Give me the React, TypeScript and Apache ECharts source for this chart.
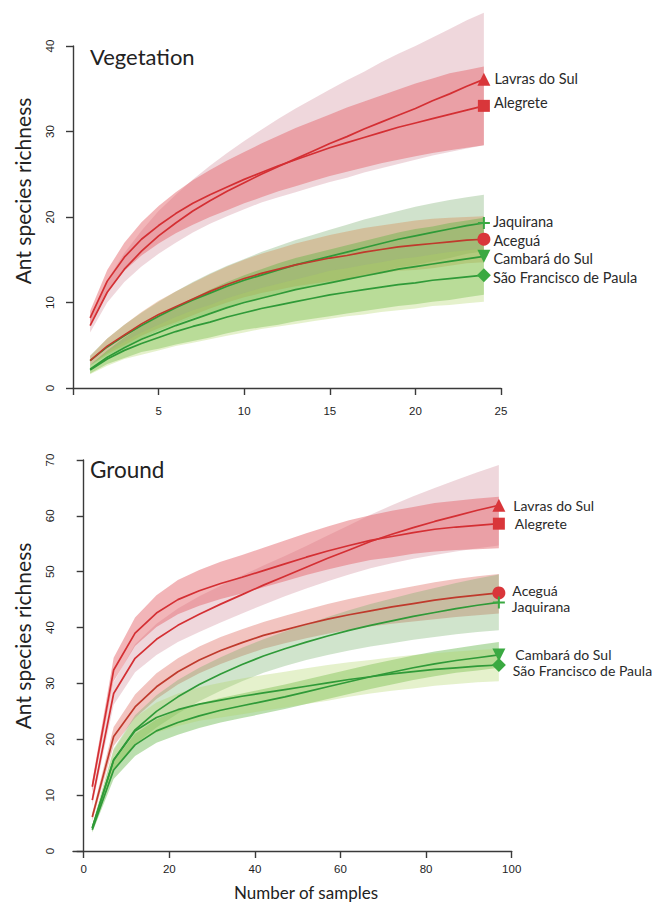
import React, { useEffect, useRef } from "react";
import * as echarts from "echarts";

// ---------- Vegetation panel (samples 1..24) ----------
const vegX = [1, 2, 3, 4, 5, 6, 7, 8, 9, 10, 11, 12, 13, 14, 15, 16, 17, 18, 19, 20, 21, 22, 23, 24];

const vegLavras = [7.3, 11.2, 13.9, 16.0, 17.8, 19.3, 20.7, 21.9, 23.0, 24.0, 25.0, 25.9, 26.8, 27.7, 28.6, 29.4, 30.3, 31.1, 31.9, 32.7, 33.6, 34.4, 35.3, 36.1];
const vegLavrasHi = [8.1, 12.6, 15.8, 18.4, 20.7, 22.6, 24.4, 26.0, 27.5, 28.9, 30.2, 31.5, 32.7, 33.8, 34.9, 36.0, 37.0, 38.1, 39.1, 40.0, 41.0, 42.0, 43.0, 43.9];
const vegLavrasLo = [6.5, 10.0, 12.4, 14.2, 15.7, 17.0, 18.2, 19.2, 20.1, 20.9, 21.7, 22.3, 22.9, 23.5, 24.1, 24.6, 25.2, 25.7, 26.2, 26.7, 27.2, 27.6, 28.0, 28.4];

const vegAlegrete = [8.2, 12.5, 15.3, 17.4, 19.0, 20.4, 21.6, 22.6, 23.5, 24.4, 25.2, 26.0, 26.7, 27.4, 28.1, 28.7, 29.3, 29.9, 30.5, 31.0, 31.5, 32.0, 32.5, 33.0];
const vegAlegreteHi = [9.0, 13.8, 17.0, 19.4, 21.3, 22.9, 24.3, 25.5, 26.6, 27.6, 28.6, 29.5, 30.4, 31.2, 32.0, 32.8, 33.5, 34.2, 34.9, 35.6, 36.2, 36.8, 37.2, 37.6];
const vegAlegreteLo = [7.4, 11.2, 13.7, 15.5, 16.9, 18.1, 19.1, 20.0, 20.8, 21.6, 22.3, 23.0, 23.6, 24.2, 24.8, 25.3, 25.8, 26.3, 26.7, 27.1, 27.5, 27.8, 28.1, 28.4];

const vegAcegua = [3.2, 4.9, 6.2, 7.5, 8.6, 9.5, 10.4, 11.3, 12.1, 12.8, 13.4, 13.9, 14.4, 14.8, 15.2, 15.5, 15.9, 16.2, 16.5, 16.7, 16.9, 17.1, 17.3, 17.4];
const vegAceguaHi = [3.7, 5.8, 7.4, 8.9, 10.2, 11.3, 12.3, 13.3, 14.2, 15.0, 15.7, 16.3, 16.9, 17.4, 17.9, 18.3, 18.7, 19.0, 19.3, 19.6, 19.8, 19.9, 20.0, 20.1];
const vegAceguaLo = [2.7, 4.0, 5.0, 6.1, 7.0, 7.7, 8.5, 9.3, 10.0, 10.6, 11.1, 11.5, 11.9, 12.2, 12.5, 12.7, 13.1, 13.4, 13.7, 13.8, 14.0, 14.3, 14.6, 14.7];

const vegJaquirana = [3.2, 4.8, 6.1, 7.3, 8.4, 9.4, 10.3, 11.1, 11.9, 12.6, 13.2, 13.8, 14.4, 14.9, 15.4, 15.9, 16.4, 16.9, 17.4, 17.8, 18.2, 18.6, 19.0, 19.3];
const vegJaquiranaHi = [3.8, 5.8, 7.4, 8.8, 10.1, 11.3, 12.4, 13.4, 14.3, 15.1, 15.9, 16.6, 17.3, 17.9, 18.5, 19.1, 19.7, 20.2, 20.7, 21.2, 21.6, 22.0, 22.3, 22.6];
const vegJaquiranaLo = [2.6, 3.8, 4.8, 5.8, 6.7, 7.5, 8.2, 8.8, 9.5, 10.1, 10.5, 11.0, 11.5, 11.9, 12.3, 12.7, 13.1, 13.6, 14.1, 14.4, 14.8, 15.2, 15.7, 16.0];

const vegCambara = [2.2, 3.6, 4.7, 5.7, 6.5, 7.3, 8.0, 8.7, 9.4, 10.0, 10.5, 11.0, 11.5, 11.9, 12.3, 12.7, 13.1, 13.5, 13.9, 14.2, 14.5, 14.8, 15.1, 15.4];
const vegCambaraHi = [2.7, 4.4, 5.9, 7.2, 8.4, 9.5, 10.5, 11.5, 12.4, 13.2, 13.9, 14.6, 15.2, 15.7, 16.2, 16.7, 17.2, 17.7, 18.2, 18.6, 18.9, 19.3, 19.6, 19.9];
const vegCambaraLo = [1.7, 2.8, 3.5, 4.2, 4.6, 5.1, 5.5, 5.9, 6.4, 6.8, 7.1, 7.4, 7.8, 8.1, 8.4, 8.7, 9.0, 9.3, 9.6, 9.8, 10.1, 10.3, 10.6, 10.9];

const vegSFP = [2.1, 3.4, 4.4, 5.2, 5.9, 6.6, 7.2, 7.7, 8.3, 8.8, 9.3, 9.7, 10.1, 10.5, 10.9, 11.2, 11.5, 11.8, 12.1, 12.3, 12.6, 12.8, 13.0, 13.2];
const vegSFPHi = [2.6, 4.2, 5.4, 6.5, 7.4, 8.3, 9.1, 9.7, 10.5, 11.1, 11.7, 12.2, 12.7, 13.2, 13.7, 14.0, 14.4, 14.7, 15.1, 15.3, 15.6, 15.9, 16.1, 16.3];
const vegSFPLo = [1.6, 2.6, 3.4, 3.9, 4.4, 4.9, 5.3, 5.7, 6.1, 6.5, 6.9, 7.2, 7.5, 7.8, 8.1, 8.4, 8.6, 8.9, 9.1, 9.3, 9.6, 9.7, 9.9, 10.1];

// ---------- Ground panel ----------
const grdX = [2, 7, 12, 17, 22, 27, 32, 37, 42, 47, 52, 57, 62, 67, 72, 77, 82, 87, 92, 97];

const grdLavras = [9.1, 28.2, 34.5, 37.9, 40.4, 42.4, 44.2, 45.9, 47.6, 49.2, 50.8, 52.4, 53.9, 55.4, 56.7, 57.9, 59.0, 60.0, 61.0, 61.9];
const grdLavrasHi = [10.1, 30.2, 37.0, 40.7, 43.4, 45.6, 47.5, 49.3, 51.1, 52.8, 54.6, 56.5, 58.3, 60.2, 61.9, 63.5, 65.0, 66.4, 67.8, 69.1];
const grdLavrasLo = [8.1, 26.2, 32.0, 35.1, 37.4, 39.2, 40.9, 42.5, 44.1, 45.6, 47.0, 48.3, 49.5, 50.6, 51.5, 52.3, 53.0, 53.6, 54.2, 54.7];

const grdAlegrete = [11.5, 32.4, 39.0, 42.6, 45.0, 46.6, 47.9, 49.0, 50.2, 51.4, 52.6, 53.7, 54.7, 55.6, 56.3, 57.0, 57.6, 58.0, 58.3, 58.6];
const grdAlegreteHi = [12.5, 34.6, 41.8, 45.8, 48.5, 50.3, 51.8, 53.0, 54.3, 55.6, 56.9, 58.1, 59.2, 60.1, 60.9, 61.6, 62.3, 62.7, 63.1, 63.4];
const grdAlegreteLo = [10.5, 30.4, 36.7, 40.1, 42.4, 43.9, 45.1, 46.1, 47.2, 48.3, 49.4, 50.4, 51.3, 52.1, 52.6, 53.2, 53.6, 53.9, 54.0, 54.2];

const grdAcegua = [6.1, 20.5, 25.8, 29.4, 32.1, 34.2, 35.9, 37.3, 38.6, 39.6, 40.6, 41.5, 42.3, 43.0, 43.7, 44.3, 44.9, 45.4, 45.8, 46.2];
const grdAceguaHi = [6.8, 22.2, 28.0, 31.8, 34.5, 36.6, 38.3, 39.7, 41.0, 42.1, 43.2, 44.2, 45.1, 45.9, 46.7, 47.4, 48.1, 48.7, 49.2, 49.6];
const grdAceguaLo = [5.4, 18.8, 23.8, 27.2, 29.8, 31.8, 33.5, 34.9, 36.2, 37.2, 38.1, 38.9, 39.6, 40.2, 40.7, 41.1, 41.5, 41.9, 42.2, 42.5];

const grdJaquirana = [4.1, 16.3, 21.7, 25.0, 27.6, 29.8, 31.7, 33.4, 34.9, 36.2, 37.4, 38.5, 39.5, 40.4, 41.2, 42.0, 42.7, 43.4, 44.0, 44.5];
const grdJaquiranaHi = [4.7, 18.3, 24.3, 27.9, 30.6, 32.8, 34.7, 36.4, 37.9, 39.3, 40.6, 41.9, 43.1, 44.2, 45.2, 46.2, 47.1, 48.0, 48.8, 49.5];
const grdJaquiranaLo = [3.5, 14.3, 19.1, 22.1, 24.6, 26.8, 28.7, 30.4, 31.9, 33.1, 34.2, 35.1, 35.9, 36.6, 37.2, 37.8, 38.3, 38.8, 39.2, 39.5];

const grdCambara = [3.8, 14.5, 19.0, 21.5, 23.0, 24.2, 25.2, 26.0, 26.8, 27.6, 28.5, 29.4, 30.3, 31.2, 32.0, 32.8, 33.5, 34.1, 34.6, 35.1];
const grdCambaraHi = [4.3, 16.1, 21.0, 23.6, 25.2, 26.4, 27.4, 28.2, 29.0, 29.8, 30.7, 31.6, 32.5, 33.4, 34.2, 35.0, 35.7, 36.3, 36.9, 37.4];
const grdCambaraLo = [3.3, 12.9, 17.0, 19.4, 20.8, 22.0, 23.0, 23.8, 24.6, 25.4, 26.3, 27.2, 28.1, 29.0, 29.8, 30.6, 31.3, 31.9, 32.3, 32.8];

const grdSFP = [4.1, 16.3, 21.5, 23.9, 25.3, 26.3, 27.0, 27.7, 28.3, 28.9, 29.5, 30.1, 30.7, 31.2, 31.7, 32.1, 32.5, 32.8, 33.1, 33.3];
const grdSFPHi = [4.6, 18.1, 23.9, 26.6, 28.2, 29.3, 30.1, 30.9, 31.5, 32.1, 32.7, 33.3, 33.8, 34.2, 34.7, 35.1, 35.4, 35.7, 36.0, 36.2];
const grdSFPLo = [3.6, 14.5, 19.1, 21.2, 22.4, 23.3, 23.9, 24.5, 25.1, 25.7, 26.3, 26.9, 27.6, 28.2, 28.7, 29.1, 29.6, 29.9, 30.2, 30.4];

// ---------- tick labels ----------
const vegXTicks = [0, 5, 10, 15, 20, 25];
const vegYTicks = [0, 10, 20, 30, 40];
const grdXTicks = [0, 20, 40, 60, 80, 100];
const grdYTicks = [0, 10, 20, 30, 40, 50, 60, 70];

const RED = "#d42f33";
const ACE_LINE = "#bf3a2c";
const GREEN = "#2f9a38";
const RED_MK = "#d9363a";
const GREEN_MK = "#3aa941";
const FONT = "Lato";

type Site = {
  name: string;
  x: number[];
  mean: number[];
  hi: number[];
  lo: number[];
  line: string;
  band: string;
  marker: string;
  symbol: string;
  rotate?: number;
  size: number;
  dist: number;
  dy: number;
};

const PLUS = "path://M5,0H7V5H12V7H7V12H5V7H0V5H5Z";

const vegSites: Site[] = [
  { name: "Lavras do Sul", x: vegX, mean: vegLavras, hi: vegLavrasHi, lo: vegLavrasLo, line: RED, band: "rgba(212,150,162,0.38)", marker: RED_MK, symbol: "triangle", size: 13, dist: 4, dy: -1 },
  { name: "Alegrete", x: vegX, mean: vegAlegrete, hi: vegAlegreteHi, lo: vegAlegreteLo, line: RED, band: "rgba(228,100,106,0.48)", marker: RED_MK, symbol: "rect", size: 12, dist: 4, dy: -3 },
  { name: "Jaquirana", x: vegX, mean: vegJaquirana, hi: vegJaquiranaHi, lo: vegJaquiranaLo, line: GREEN, band: "rgba(110,165,95,0.32)", marker: GREEN_MK, symbol: PLUS, size: 12, dist: 3, dy: -1 },
  { name: "Aceguá", x: vegX, mean: vegAcegua, hi: vegAceguaHi, lo: vegAceguaLo, line: ACE_LINE, band: "rgba(215,130,70,0.35)", marker: RED_MK, symbol: "circle", size: 13, dist: 3, dy: 1 },
  { name: "Cambará do Sul", x: vegX, mean: vegCambara, hi: vegCambaraHi, lo: vegCambaraLo, line: GREEN, band: "rgba(85,175,55,0.38)", marker: GREEN_MK, symbol: "triangle", rotate: 180, size: 13, dist: 3, dy: 2 },
  { name: "São Francisco de Paula", x: vegX, mean: vegSFP, hi: vegSFPHi, lo: vegSFPLo, line: GREEN, band: "rgba(175,210,95,0.32)", marker: GREEN_MK, symbol: "diamond", size: 14, dist: 2, dy: 2 },
];

const grdSites: Site[] = [
  { name: "Lavras do Sul", x: grdX, mean: grdLavras, hi: grdLavrasHi, lo: grdLavrasLo, line: RED, band: "rgba(212,150,162,0.38)", marker: RED_MK, symbol: "triangle", size: 13, dist: 8, dy: 0 },
  { name: "Alegrete", x: grdX, mean: grdAlegrete, hi: grdAlegreteHi, lo: grdAlegreteLo, line: RED, band: "rgba(228,100,106,0.48)", marker: RED_MK, symbol: "rect", size: 12, dist: 10, dy: 0 },
  { name: "Aceguá", x: grdX, mean: grdAcegua, hi: grdAceguaHi, lo: grdAceguaLo, line: ACE_LINE, band: "rgba(225,115,105,0.42)", marker: RED_MK, symbol: "circle", size: 13, dist: 7, dy: -2 },
  { name: "Jaquirana", x: grdX, mean: grdJaquirana, hi: grdJaquiranaHi, lo: grdJaquiranaLo, line: GREEN, band: "rgba(110,170,95,0.32)", marker: GREEN_MK, symbol: PLUS, size: 12, dist: 7, dy: 4 },
  { name: "Cambará do Sul", x: grdX, mean: grdCambara, hi: grdCambaraHi, lo: grdCambaraLo, line: GREEN, band: "rgba(85,175,55,0.40)", marker: GREEN_MK, symbol: "triangle", rotate: 180, size: 13, dist: 10, dy: 0 },
  { name: "São Francisco de Paula", x: grdX, mean: grdSFP, hi: grdSFPHi, lo: grdSFPLo, line: GREEN, band: "rgba(175,210,95,0.32)", marker: GREEN_MK, symbol: "diamond", size: 14, dist: 7, dy: 6 },
];

function buildSeries(sites: Site[], idx: number, labelSize: number) {
  const out: any[] = [];
  sites.forEach((s) => {
    out.push({
      type: "custom",
      xAxisIndex: idx,
      yAxisIndex: idx,
      silent: true,
      clip: false,
      z: 1,
      data: s.x.map((v, i) => [v, s.lo[i], s.hi[i]]),
      renderItem: (params: any, api: any) => {
        if (params.dataIndex !== 0) return null;
        const pts: number[][] = [];
        for (let i = 0; i < s.x.length; i++) pts.push(api.coord([s.x[i], s.hi[i]]));
        for (let i = s.x.length - 1; i >= 0; i--) pts.push(api.coord([s.x[i], s.lo[i]]));
        return { type: "polygon", shape: { points: pts }, style: { fill: s.band } };
      },
    });
  });
  sites.forEach((s) => {
    out.push({
      type: "line",
      xAxisIndex: idx,
      yAxisIndex: idx,
      silent: true,
      clip: false,
      z: 3,
      symbol: "none",
      lineStyle: { color: s.line, width: 1.7 },
      data: s.x.map((v, i) => [v, s.mean[i]]),
    });
  });
  sites.forEach((s) => {
    const n = s.x.length - 1;
    out.push({
      type: "scatter",
      xAxisIndex: idx,
      yAxisIndex: idx,
      silent: true,
      z: 4,
      symbol: s.symbol,
      symbolSize: s.size,
      symbolRotate: s.rotate || 0,
      itemStyle: { color: s.marker, opacity: 1 },
      label: {
        show: true,
        position: "right",
        distance: s.dist,
        offset: [0, s.dy],
        formatter: s.name,
        color: "#2a2a2a",
        fontFamily: FONT,
        fontSize: labelSize,
        lineHeight: labelSize - 1,
      },
      data: [[s.x[n], s.mean[n]]],
    });
  });
  return out;
}

const axisLineStyle = { color: "#3a3a3a", width: 1.4 };
const tickLabel = { color: "#1e1e1e", fontFamily: "Liberation Sans", fontSize: 11.5 };

export default function App() {
  const ref = useRef<HTMLDivElement>(null);
  useEffect(() => {
    if (!ref.current) return;
    const chart = echarts.init(ref.current, null, { renderer: "svg" });
    chart.setOption({
      animation: false,
      backgroundColor: "#ffffff",
      grid: [
        { left: 73, top: 46, width: 428, height: 342 },
        { left: 73, top: 460, width: 438.7, height: 391 },
      ],
      xAxis: [
        {
          type: "value",
          gridIndex: 0,
          min: vegXTicks[0],
          max: vegXTicks[vegXTicks.length - 1],
          interval: 5,
          splitLine: { show: false },
          axisLine: { show: true, lineStyle: axisLineStyle },
          axisTick: { show: true, length: 7, lineStyle: axisLineStyle },
          axisLabel: { ...tickLabel, margin: 17, formatter: (v: number) => (v === 0 ? "" : String(v)) },
        },
        {
          type: "value",
          gridIndex: 1,
          min: -2.5,
          max: grdXTicks[grdXTicks.length - 1],
          splitLine: { show: false },
          axisLine: { show: true, lineStyle: axisLineStyle },
          axisTick: { show: true, length: 7, lineStyle: axisLineStyle, customValues: grdXTicks },
          axisLabel: { ...tickLabel, margin: 12, customValues: grdXTicks },
        },
      ],
      yAxis: [
        {
          type: "value",
          gridIndex: 0,
          min: vegYTicks[0],
          max: vegYTicks[vegYTicks.length - 1],
          interval: 10,
          splitLine: { show: false },
          axisLine: { show: true, lineStyle: axisLineStyle },
          axisTick: { show: true, length: 7, lineStyle: axisLineStyle },
          axisLabel: { ...tickLabel, rotate: 90, margin: 17 },
        },
        {
          type: "value",
          gridIndex: 1,
          min: grdYTicks[0],
          max: grdYTicks[grdYTicks.length - 1],
          interval: 10,
          splitLine: { show: false },
          axisLine: { show: true, lineStyle: axisLineStyle },
          axisTick: { show: true, length: 7, lineStyle: axisLineStyle },
          axisLabel: { ...tickLabel, rotate: 90, margin: 17 },
        },
      ],
      graphic: [
        { type: "text", left: 90, top: 45, style: { text: "Vegetation", fontFamily: FONT, fontSize: 22, fill: "#222" } },
        { type: "text", left: 90, top: 458, style: { text: "Ground", fontFamily: FONT, fontSize: 22.5, fill: "#222" } },
        {
          type: "text", x: 22, y: 191, rotation: Math.PI / 2,
          style: { text: "Ant species richness", fontFamily: FONT, fontSize: 21, fill: "#222", textAlign: "center", textVerticalAlign: "middle" },
        },
        {
          type: "text", x: 22, y: 636, rotation: Math.PI / 2,
          style: { text: "Ant species richness", fontFamily: FONT, fontSize: 21, fill: "#222", textAlign: "center", textVerticalAlign: "middle" },
        },
        {
          type: "text", x: 306, y: 892,
          style: { text: "Number of samples", fontFamily: FONT, fontSize: 17, fill: "#222", textAlign: "center", textVerticalAlign: "middle" },
        },
      ],
      series: [...buildSeries(vegSites, 0, 14.5), ...buildSeries(grdSites, 1, 14)],
    });
    return () => chart.dispose();
  }, []);
  return <div ref={ref} style={{ position: "absolute", left: 0, top: 0, width: 664, height: 902 }} />;
}
